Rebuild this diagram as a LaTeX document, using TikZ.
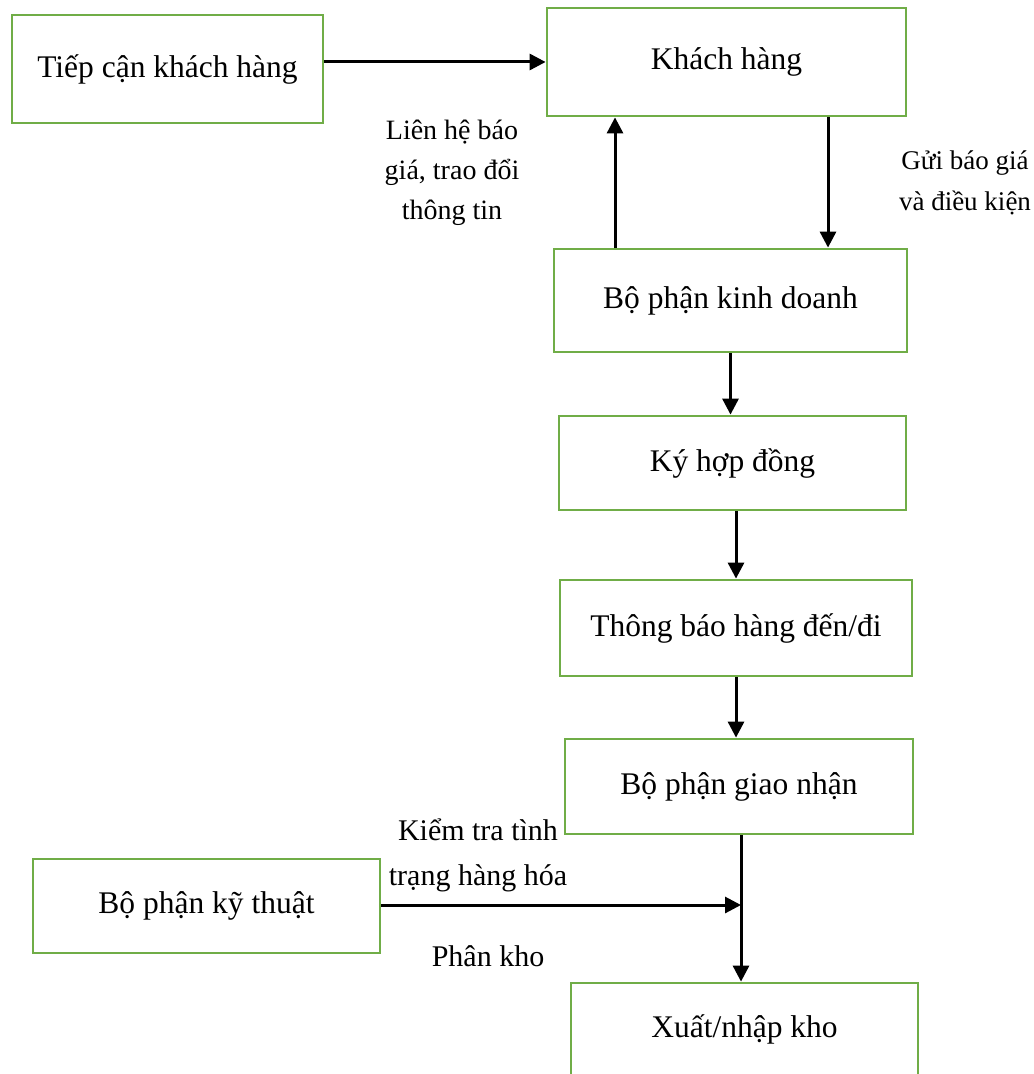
\documentclass[tikz,border=0pt]{standalone}
\usepackage{fontspec}
\setmainfont{Liberation Serif}
\usetikzlibrary{arrows.meta}
\definecolor{boxgreen}{HTML}{70AD47}
\begin{document}
\begin{tikzpicture}[x=0.5pt,y=-0.5pt,
  stepbox/.style={draw=boxgreen,line width=1.4pt,align=center,inner sep=0pt,
    font=\fontsize{15.75}{19}\selectfont},
  flow/.style={line width=1.5pt,-{Triangle[length=8pt,width=8pt]}},
  note/.style={align=center,inner sep=0pt,font=\fontsize{14}{20}\selectfont}]
\useasboundingbox (0,0) rectangle (1033,1074);
\clip (0,0) rectangle (1033,1074);

% process boxes
\node[stepbox,minimum width=155.5pt,minimum height=54pt] (tiepcan) at (167.5,69) {Tiếp cận khách hàng};
\node[stepbox,minimum width=179.5pt,minimum height=54pt] (khach) at (726.5,62) {Khách hàng};
\node[stepbox,minimum width=176.5pt,minimum height=51.5pt] (kinhdoanh) at (730.5,300.5) {Bộ phận kinh doanh};
\node[stepbox,minimum width=173.5pt,minimum height=47pt] (hopdong) at (732.5,463) {Ký hợp đồng};
\node[stepbox,minimum width=176pt,minimum height=48pt] (thongbao) at (736,628) {Thông báo hàng đến/đi};
\node[stepbox,minimum width=174pt,minimum height=47.5pt] (giaonhan) at (739,786.5) {Bộ phận giao nhận};
\node[stepbox,minimum width=173.5pt,minimum height=47pt] (kythuat) at (206.5,906) {Bộ phận kỹ thuật};
\node[stepbox,minimum width=173.5pt,minimum height=48pt,text depth=5pt] (xuatnhap) at (744.5,1031) {Xuất/nhập kho};

\coordinate (junc) at (741,905);

% connectors
\draw[flow] (tiepcan.east |- khach.west) -- (khach.west);
\draw[flow] ([xshift=-57.75pt]kinhdoanh.north) -- ([xshift=-57.75pt]kinhdoanh.north |- khach.south);
\draw[flow] ([xshift=50.75pt]khach.south) -- ([xshift=50.75pt]khach.south |- kinhdoanh.north);
\draw[flow] (kinhdoanh.south) -- (kinhdoanh.south |- hopdong.north);
\draw[flow] (hopdong.south -| thongbao.north) -- (thongbao.north);
\draw[flow] (thongbao.south) -- (thongbao.south |- giaonhan.north);
\draw[flow] (giaonhan.south -| junc) -- (junc |- xuatnhap.north);
\draw[flow] (kythuat.east |- junc) -- (junc);

% connector labels
\node[note] (lienhe) at (452,173) {Liên hệ báo\\giá, trao đổi\\thông tin};
\node[note,font=\fontsize{13.5}{20.5}\selectfont] (guibao) at (965,183) {Gửi báo giá\\và điều kiện};
\node[note,font=\fontsize{15}{22.5}\selectfont] (kiemtra) at (478,855) {Kiểm tra tình\\trạng hàng hóa};
\node[note,font=\fontsize{15}{22.5}\selectfont] (phankho) at (488,956) {Phân kho};
\end{tikzpicture}
\end{document}
